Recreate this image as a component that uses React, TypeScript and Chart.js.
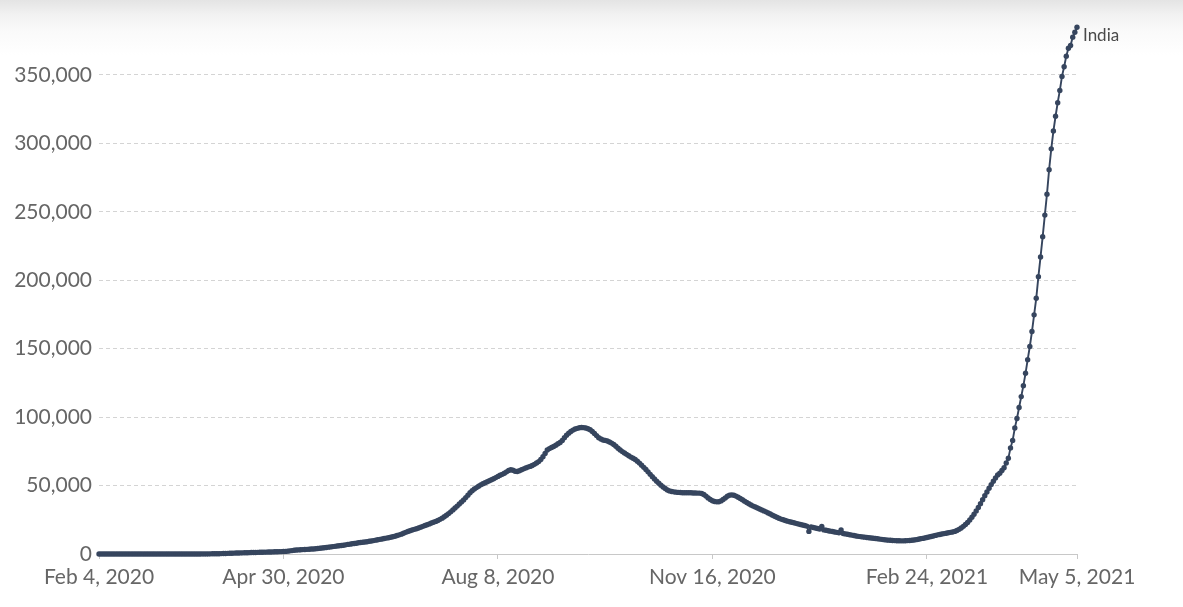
import React, { useEffect, useRef } from "react";
import { Chart, registerables } from "chart.js";

Chart.register(...registerables);

const SERIES_LABEL = "India";

const X_TICK_DAYS = [0, 86, 186, 286, 386, 456];
const X_TICK_LABELS = [
  "Feb 4, 2020",
  "Apr 30, 2020",
  "Aug 8, 2020",
  "Nov 16, 2020",
  "Feb 24, 2021",
  "May 5, 2021",
];

const Y_TICKS = [0, 50000, 100000, 150000, 200000, 250000, 300000, 350000];

// Daily new cases (7-day average), one value per day from Feb 4, 2020 to May 5, 2021
const DAILY_CASES = [
  0, 0, 0, 0, 0, 0, 0, 0, 0, 0,
  0, 0, 0, 0, 0, 0, 0, 0, 0, 0,
  0, 0, 0, 0, 0, 0, 0, 0, 1, 3,
  4, 4, 4, 5, 6, 7, 8, 10, 11, 12,
  13, 15, 18, 20, 25, 30, 40, 50, 60, 70,
  80, 90, 110, 130, 150, 180, 220, 300, 370, 420,
  480, 540, 600, 650, 700, 750, 800, 850, 900, 950,
  1000, 1050, 1100, 1150, 1200, 1250, 1300, 1350, 1400, 1450,
  1500, 1550, 1600, 1650, 1700, 1750, 1800, 1900, 2100, 2300,
  2500, 2700, 2900, 3000, 3100, 3200, 3300, 3400, 3500, 3600,
  3700, 3850, 4000, 4200, 4400, 4600, 4800, 5000, 5200, 5400,
  5600, 5800, 6000, 6200, 6400, 6700, 7000, 7200, 7500, 7700,
  7900, 8200, 8400, 8600, 8800, 9000, 9300, 9500, 9800, 10100,
  10400, 10700, 11000, 11300, 11600, 11900, 12200, 12600, 13000, 13500,
  14000, 14500, 15200, 15800, 16400, 17000, 17500, 18000, 18500, 19000,
  19600, 20200, 20800, 21400, 22000, 22600, 23200, 23800, 24500, 25300,
  26200, 27200, 28300, 29500, 30800, 32200, 33600, 35000, 36500, 38000,
  39500, 41200, 43000, 44700, 46200, 47500, 48500, 49500, 50500, 51300,
  52000, 52800, 53500, 54200, 55000, 55800, 56700, 57500, 58200, 59000,
  60000, 61000, 61500, 61200, 60500, 60300, 60800, 61500, 62200, 62900,
  63500, 64000, 64700, 65500, 66500, 67500, 69000, 71000, 73500, 76000,
  77000, 77800, 78500, 79500, 80500, 81500, 83000, 85000, 86800, 88300,
  89500, 90500, 91300, 91800, 92200, 92400, 92300, 92000, 91500, 90800,
  89500, 88000, 86500, 85000, 84000, 83300, 83000, 82500, 81800, 81000,
  80000, 78700, 77300, 76000, 74800, 73800, 72800, 71800, 70800, 69900,
  69000, 67800, 66400, 64900, 63300, 61700, 60000, 58200, 56500, 54800,
  53200, 51700, 50300, 49000, 47800, 46800, 46100, 45700, 45400, 45200,
  45000, 44900, 44800, 44800, 44700, 44700, 44700, 44600, 44600, 44500,
  44500, 44200, 43500, 42300, 41000, 39800, 38900, 38300, 38100, 38200,
  38800, 39800, 41000, 42200, 43000, 43200, 42900, 42300, 41500, 40600,
  39600, 38600, 37600, 36700, 35800, 35000, 34300, 33600, 32900, 32200,
  31500, 30800, 30000, 29200, 28400, 27600, 26800, 26100, 25500, 25000,
  24500, 24000, 23600, 23200, 22800, 22400, 22000, 21600, 21200, 20800,
  20400, 16500, 19800, 19400, 19000, 18600, 18200, 20200, 17600, 17300,
  17000, 16700, 16400, 16100, 15800, 15500, 17500, 15000, 14700, 14400,
  14100, 13800, 13500, 13200, 12900, 12700, 12500, 12300, 12100, 11900,
  11700, 11500, 11300, 11100, 10900, 10700, 10500, 10300, 10100, 10000,
  9900, 9800, 9700, 9700, 9600, 9600, 9700, 9800, 9900, 10000,
  10200, 10500, 10800, 11100, 11400, 11700, 12000, 12400, 12800, 13200,
  13600, 14000, 14300, 14600, 14900, 15200, 15500, 15800, 16100, 16500,
  17200, 18000, 19000, 20200, 21600, 23000, 24800, 26800, 29000, 31500,
  34000, 36800, 39600, 42500, 45300, 48000, 50700, 53200, 55500, 57700,
  59000, 61000, 63000, 66500, 70000, 77500, 83000, 92000, 99000, 107000,
  115000, 123000, 132000, 142000, 151600, 162500, 174700, 186800, 202600, 217000,
  231800, 247600, 262900, 280800, 296000, 309000, 319800, 329700, 338700, 348900,
  356000, 363700, 369500, 371500, 377600, 381200, 384800,
];

const LINE_COLOR = "#36455e";
const TEXT_COLOR = "#666666";
const FONT_FAMILY = "Lato, 'Open Sans', sans-serif";

export default function App() {
  const canvasRef = useRef<HTMLCanvasElement>(null);

  useEffect(() => {
    document.body.style.margin = "0";
    const canvas = canvasRef.current;
    if (!canvas) return;

    const endLabel = {
      id: "endLabel",
      afterDatasetsDraw(chart: any) {
        const meta = chart.getDatasetMeta(0);
        const pt = meta.data[meta.data.length - 1];
        if (!pt) return;
        const c = chart.ctx;
        c.save();
        c.font = `17px ${FONT_FAMILY}`;
        c.fillStyle = "#4a4a4a";
        c.textAlign = "left";
        c.textBaseline = "middle";
        c.fillText(chart.data.datasets[0].label, pt.x + 6, pt.y + 8);
        c.restore();
      },
    };

    const chart = new Chart(canvas, {
      type: "line",
      data: {
        datasets: [
          {
            label: SERIES_LABEL,
            data: DAILY_CASES.map((v, i) => ({ x: i, y: v })),
            borderColor: LINE_COLOR,
            backgroundColor: LINE_COLOR,
            borderWidth: 1.9,
            pointRadius: 2.7,
            pointBorderWidth: 0,
            pointBackgroundColor: LINE_COLOR,
            tension: 0,
            clip: false as any,
          },
        ],
      },
      options: {
        animation: false,
        responsive: false,
        maintainAspectRatio: false,
        layout: { padding: { top: 27, right: 106, left: 0, bottom: 0 } },
        plugins: {
          legend: { display: false },
          tooltip: { enabled: false },
        },
        scales: {
          x: {
            type: "linear",
            min: 0,
            max: X_TICK_DAYS[X_TICK_DAYS.length - 1],
            afterBuildTicks: (s: any) => {
              s.ticks = X_TICK_DAYS.map((v) => ({ value: v }));
            },
            afterFit: (s: any) => {
              s.height = 53;
            },
            ticks: {
              autoSkip: false,
              maxRotation: 0,
              padding: 6,
              color: TEXT_COLOR,
              font: { family: FONT_FAMILY, size: 21 },
              callback: (_v: any, i: number) => X_TICK_LABELS[i],
            },
            grid: {
              drawOnChartArea: false,
              drawTicks: true,
              tickLength: 5,
              color: "#c8c8c8",
            },
            border: { display: true, color: "#c8c8c8" },
          },
          y: {
            min: 0,
            max: 385000,
            afterBuildTicks: (s: any) => {
              s.ticks = Y_TICKS.map((v) => ({ value: v }));
            },
            afterFit: (s: any) => {
              s.width = 99;
            },
            ticks: {
              padding: 7,
              color: TEXT_COLOR,
              font: { family: FONT_FAMILY, size: 21 },
              callback: (v: any) => Number(v).toLocaleString("en-US"),
            },
            grid: {
              drawTicks: false,
              lineWidth: 1,
              color: (ctx: any) =>
                ctx.tick && ctx.tick.value === 0 ? "rgba(0,0,0,0)" : "#d4d4d4",
            },
            border: { display: false, dash: [4, 3] },
          },
        },
      },
      plugins: [endLabel],
    });

    return () => chart.destroy();
  }, []);

  return (
    <div
      style={{
        width: 1183,
        height: 607,
        background:
          "linear-gradient(to bottom, #e4e4e4 0px, #f1f1f1 14px, #fafafa 32px, #ffffff 55px)",
      }}
    >
      <canvas ref={canvasRef} width={1183} height={607} style={{ display: "block" }} />
    </div>
  );
}
